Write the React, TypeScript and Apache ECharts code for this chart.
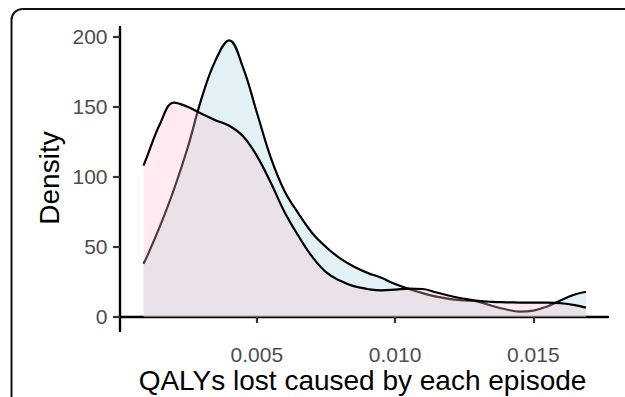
import React, { useEffect, useRef } from "react";
import * as echarts from "echarts";

const xValues = [
  0.0009, 0.001, 0.0015, 0.002, 0.0025, 0.003, 0.0035, 0.004, 0.0045, 0.005,
  0.0055, 0.006, 0.0065, 0.007, 0.0075, 0.008, 0.0085, 0.009, 0.0095, 0.01,
  0.0105, 0.011, 0.0115, 0.012, 0.0125, 0.013, 0.0135, 0.014, 0.0145, 0.015,
  0.0155, 0.016, 0.0165, 0.0169,
];

const blueValues = [
  38, 42, 65, 91, 121, 156, 183, 197.5, 178, 146,
  114, 90, 74, 60, 50, 42, 36, 31.5, 28, 23.5,
  20, 17, 14.5, 12.8, 11.8, 11, 8, 5.5, 3.8, 4.5,
  7.5, 12, 16, 18,
];

const pinkValues = [
  108, 113, 138, 153, 150, 145, 140.5, 136.5, 129, 115,
  96, 75, 58, 43, 32, 26, 22, 20, 19, 19.5,
  20.3, 20, 17.5, 15, 13, 11.5, 10.8, 10.5, 10.3, 10.2,
  10.2, 9.8, 8.5, 6.7,
];

const yTicks = [0, 50, 100, 150, 200];
const xTicks = [0.005, 0.01, 0.015];

const xTitle = "QALYs lost caused by each episode";
const yTitle = "Density";

export default function App() {
  const ref = useRef<HTMLDivElement>(null);

  useEffect(() => {
    if (!ref.current) return;
    const chart = echarts.init(ref.current, null, { renderer: "svg" });
    const font = "'Liberation Sans', Arial, Helvetica, sans-serif";
    const toPairs = (ys: number[]) => xValues.map((x, i) => [x, ys[i]]);

    chart.setOption({
      animation: false,
      textStyle: { fontFamily: font },
      grid: { left: 120, right: 17, top: 27, bottom: 66, containLabel: false },
      xAxis: {
        type: "value",
        min: 0.00005,
        max: 0.0177,
        splitLine: { show: false },
        axisLine: { show: true, lineStyle: { color: "#000", width: 2.4 } },
        axisTick: {
          show: true,
          length: 6,
          customValues: xTicks,
          lineStyle: { color: "#333", width: 2.2 },
        },
        axisLabel: {
          customValues: xTicks,
          formatter: (v: number) => v.toFixed(3),
          color: "#4D4D4D",
          fontSize: 21,
          margin: 13,
          fontFamily: font,
        },
      },
      yAxis: {
        type: "value",
        min: -10,
        max: 207,
        splitLine: { show: false },
        axisLine: { show: true, lineStyle: { color: "#000", width: 2.4 } },
        axisTick: {
          show: true,
          length: 7,
          customValues: yTicks,
          lineStyle: { color: "#333", width: 2.2 },
        },
        axisLabel: {
          customValues: yTicks,
          color: "#4D4D4D",
          fontSize: 21,
          margin: 12.5,
          fontFamily: font,
        },
      },
      series: [
        {
          name: "blue",
          type: "line",
          data: toPairs(blueValues),
          smooth: 0.4,
          showSymbol: false,
          lineStyle: { color: "#000", width: 2.2 },
          areaStyle: { color: "rgba(173,216,230,0.5)", origin: 0 },
          z: 2,
        },
        {
          name: "pink",
          type: "line",
          data: toPairs(pinkValues),
          smooth: 0.4,
          showSymbol: false,
          lineStyle: { color: "#000", width: 2.2 },
          areaStyle: { color: "rgba(255,192,203,0.45)", origin: 0 },
          z: 3,
        },
      ],
      graphic: [
        {
          type: "rect",
          shape: { x: 11.5, y: 9, width: 720, height: 520, r: 11 },
          style: { fill: "none", stroke: "#111", lineWidth: 2 },
          silent: true,
        },
        {
          type: "text",
          x: 49,
          y: 178,
          rotation: Math.PI / 2,
          style: {
            text: yTitle,
            fontSize: 28,
            fontFamily: font,
            fill: "#000",
            textAlign: "center",
            textVerticalAlign: "middle",
          },
        },
        {
          type: "text",
          x: 362.5,
          y: 380.5,
          style: {
            text: xTitle,
            fontSize: 28,
            fontFamily: font,
            fill: "#000",
            textAlign: "center",
            textVerticalAlign: "middle",
          },
        },
      ],
    });

    return () => chart.dispose();
  }, []);

  return (
    <div
      ref={ref}
      style={{ position: "fixed", left: 0, top: 0, width: 625, height: 397, background: "#fff" }}
    />
  );
}
